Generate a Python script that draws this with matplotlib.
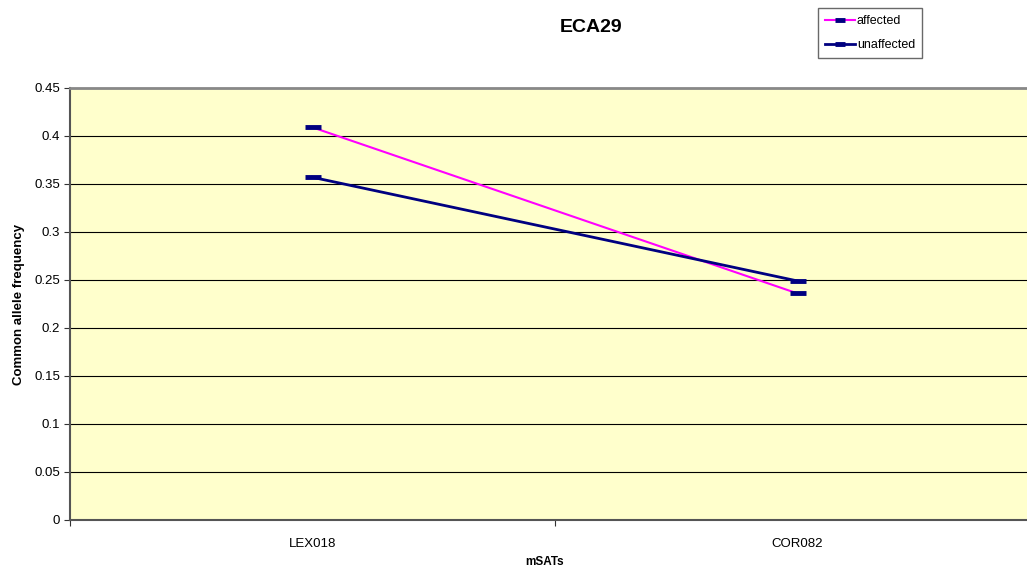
import matplotlib
matplotlib.use("Agg")
import matplotlib.pyplot as plt

categories = ["LEX018", "COR082"]
affected = [0.409, 0.236]
unaffected = [0.357, 0.249]
yticks = [0, 0.05, 0.1, 0.15, 0.2, 0.25, 0.3, 0.35, 0.4, 0.45]

plt.rcParams['font.family'] = ['Liberation Sans', 'DejaVu Sans']

W, H = 1027, 573
fig = plt.figure(figsize=(W/100, H/100), dpi=100)
left, right, top, bottom = 70, 1040, 88, 520
ax = fig.add_axes([left/W, 1-bottom/H, (right-left)/W, (bottom-top)/H])
ax.set_facecolor('#FFFFCC')

x = list(range(len(categories)))
ax.plot(x, affected, color='#FF00FF', lw=1.5, marker='_', ms=12, mew=3.5,
        mec='#000080', mfc='#000080', label='affected', zorder=3)
ax.plot(x, unaffected, color='#000080', lw=2.0, marker='_', ms=12, mew=3.5,
        mec='#000080', mfc='#000080', label='unaffected', zorder=3)

ax.set_xlim(-0.5, 1.5)
ax.set_ylim(0, 0.45)
ax.set_yticks(yticks)
ax.set_yticklabels([f"{v:g}" for v in yticks], fontsize=9.5)
ax.set_xticks([-0.5, 0.5, 1.5], minor=False)
ax.set_xticklabels(['', '', ''])
ax.set_xticks(x, minor=True)
ax.set_xticklabels(categories, minor=True, fontsize=9.5)
ax.tick_params(axis='x', which='minor', length=0, pad=13)
ax.tick_params(axis='x', which='major', length=4, direction='out', color='#333333')
ax.tick_params(axis='y', length=4, direction='out', color='#333333', pad=3)
ax.grid(axis='y', color='black', lw=0.8)
ax.set_axisbelow(True)
for s in ['left', 'bottom']:
    ax.spines[s].set_color('#555555')
    ax.spines[s].set_linewidth(1.5)
ax.spines['top'].set_color('#888888')
ax.spines['top'].set_linewidth(2)
ax.spines['right'].set_visible(False)

fig.text(591/W, 1-28/H, 'ECA29', ha='center', va='center', fontsize=14, fontweight='bold')
fig.text(545/W, 1-562/H, 'mSATs', ha='center', va='center', fontsize=8.5, fontweight='bold')
fig.text(19/W, 1-304/H, 'Common allele frequency', ha='center', va='center', rotation=90,
         fontsize=9.5, fontweight='bold')

leg = fig.legend(loc='upper left', bbox_to_anchor=(818/W, 1-8/H), fontsize=9,
                 frameon=True, fancybox=False, edgecolor='#444444', handlelength=2.4,
                 borderpad=0.55, borderaxespad=0, labelspacing=1.0, handletextpad=0.15,
                 markerscale=0.6)
leg.get_frame().set_linewidth(1)

fig.savefig('out.png', dpi=100)
